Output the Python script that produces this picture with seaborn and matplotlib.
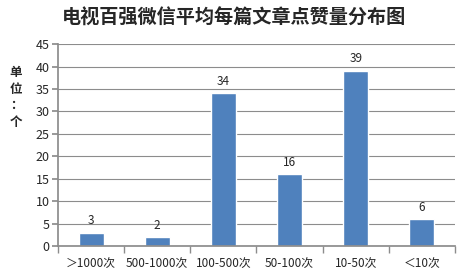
import matplotlib
matplotlib.use("Agg")
import matplotlib.pyplot as plt
import seaborn as sns
import pandas as pd

categories = ["＞1000次", "500-1000次", "100-500次", "50-100次", "10-50次", "＜10次"]
values = [3, 2, 34, 16, 39, 6]
title = "电视百强微信平均每篇文章点赞量分布图"
unit_label = "单\n位\n：\n个"

sns.set_theme(style="white")
plt.rcParams['font.family'] = ['Noto Sans CJK SC', 'DejaVu Sans']

df = pd.DataFrame({"cat": categories, "val": values})

fig = plt.figure(figsize=(4.68, 2.74), dpi=100)
ax = fig.add_axes([0.124, 0.102, 0.848, 0.737])
sns.barplot(data=df, x="cat", y="val", color="#4F81BD", width=0.38, saturation=1, ax=ax)

ax.set_ylim(0, 45)
ax.set_yticks(range(0, 46, 5))
ax.set_xlim(-0.5, len(categories) - 0.5)
ax.yaxis.grid(True, color="#8C8C8C", linewidth=0.8)
ax.set_axisbelow(True)
for s in ["top", "right"]:
    ax.spines[s].set_visible(False)
ax.spines["left"].set_color("#8C8C8C")
ax.spines["bottom"].set_color("#8C8C8C")
ax.set_xlabel("")
ax.set_ylabel("")
ax.tick_params(axis="y", labelsize=9, length=4, color="#8C8C8C", left=True, pad=2)
ax.tick_params(axis="x", labelsize=8.5, length=0, pad=8)
ax.set_xticks([i - 0.5 for i in range(len(categories) + 1)], minor=True)
ax.tick_params(axis="x", which="minor", length=5, color="#8C8C8C", bottom=True)

for p, v in zip(ax.patches, values):
    ax.annotate(str(v), (p.get_x() + p.get_width() / 2, p.get_height()),
                xytext=(0, 4), textcoords="offset points",
                ha="center", va="bottom", fontsize=8.5)

fig.text(0.5, 0.935, title, ha="center", va="center", fontsize=13.8, fontweight="bold")
fig.text(0.034, 0.645, unit_label, ha="center", va="center", fontsize=9,
         fontweight="bold", linespacing=1.35)

fig.savefig("out.png", dpi=100)
